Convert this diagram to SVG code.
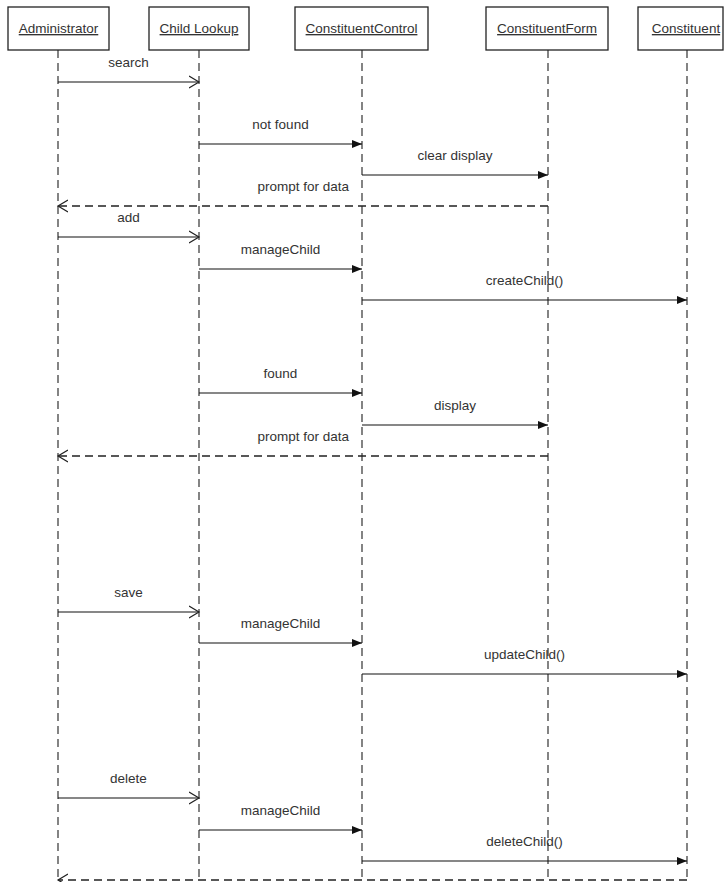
<svg xmlns="http://www.w3.org/2000/svg" width="725" height="882" viewBox="0 0 725 882">
<style>
.box{fill:#fff;stroke:#222;stroke-width:1.3}
.hdr{font-family:"Liberation Sans",Arial,sans-serif;font-size:13.5px;fill:#333;text-anchor:middle;text-decoration:underline}
.life{stroke:#333;stroke-width:1.2;stroke-dasharray:8 5;fill:none}
.msg{stroke:#111;stroke-width:1.2;fill:none}
.ret{stroke:#222;stroke-width:1.3;stroke-dasharray:8 5;fill:none}
.lbl{font-family:"Liberation Sans",Arial,sans-serif;font-size:13.5px;fill:#333;text-anchor:middle}
.lblr{font-family:"Liberation Sans",Arial,sans-serif;font-size:13.5px;fill:#333;text-anchor:end}
</style>
<defs>
<marker id="fill" markerUnits="userSpaceOnUse" markerWidth="12" markerHeight="10" refX="10" refY="5" orient="auto">
<path d="M0,1 L10,5 L0,9 Z" fill="#111"/>
</marker>
<marker id="open" markerUnits="userSpaceOnUse" markerWidth="12" markerHeight="14" refX="10" refY="7" orient="auto">
<path d="M0,1 L10,7 L0,13" fill="none" stroke="#222" stroke-width="1.2"/>
</marker>
</defs>
<rect width="725" height="882" fill="#fff"/>
<g id="lifelines">
<line class="life" x1="58" y1="50" x2="58" y2="880"/>
<line class="life" x1="199" y1="50" x2="199" y2="880"/>
<line class="life" x1="362" y1="50" x2="362" y2="880"/>
<line class="life" x1="548" y1="50" x2="548" y2="880"/>
<line class="life" x1="687" y1="50" x2="687" y2="880"/>
</g>
<g id="administrator"><rect class="box" x="8" y="7" width="101" height="43"/><text class="hdr" x="58.5" y="33">Administrator</text></g>
<g id="child-lookup"><rect class="box" x="149" y="7" width="100" height="43"/><text class="hdr" x="199" y="33">Child Lookup</text></g>
<g id="constituent-control"><rect class="box" x="295" y="7" width="133" height="43"/><text class="hdr" x="361.5" y="33">ConstituentControl</text></g>
<g id="constituent-form"><rect class="box" x="486" y="7" width="122" height="43"/><text class="hdr" x="547" y="33">ConstituentForm</text></g>
<g id="constituent"><rect class="box" x="638" y="7" width="85" height="43"/><text class="hdr" x="686" y="33">Constituent</text></g>
<g id="connectors">
<line class="msg" x1="58" y1="82" x2="199" y2="82" marker-end="url(#open)"/>
<line class="msg" x1="199" y1="144" x2="362" y2="144" marker-end="url(#fill)"/>
<line class="msg" x1="362" y1="175" x2="548" y2="175" marker-end="url(#fill)"/>
<line class="ret" x1="548" y1="206" x2="58" y2="206" marker-end="url(#open)"/>
<line class="msg" x1="58" y1="237" x2="199" y2="237" marker-end="url(#open)"/>
<line class="msg" x1="199" y1="269" x2="362" y2="269" marker-end="url(#fill)"/>
<line class="msg" x1="362" y1="300" x2="687" y2="300" marker-end="url(#fill)"/>
<line class="msg" x1="199" y1="393" x2="362" y2="393" marker-end="url(#fill)"/>
<line class="msg" x1="362" y1="425" x2="548" y2="425" marker-end="url(#fill)"/>
<line class="ret" x1="548" y1="456" x2="58" y2="456" marker-end="url(#open)"/>
<line class="msg" x1="58" y1="612" x2="199" y2="612" marker-end="url(#open)"/>
<line class="msg" x1="199" y1="643" x2="362" y2="643" marker-end="url(#fill)"/>
<line class="msg" x1="362" y1="674" x2="687" y2="674" marker-end="url(#fill)"/>
<line class="msg" x1="58" y1="798" x2="199" y2="798" marker-end="url(#open)"/>
<line class="msg" x1="199" y1="830" x2="362" y2="830" marker-end="url(#fill)"/>
<line class="msg" x1="362" y1="861" x2="687" y2="861" marker-end="url(#fill)"/>
<line class="ret" x1="687" y1="880" x2="58" y2="880" marker-end="url(#open)"/>
</g>
<g id="labels">
<text class="lbl" x="128.5" y="67">search</text>
<text class="lbl" x="280.5" y="129">not found</text>
<text class="lbl" x="455" y="160">clear display</text>
<text class="lblr" x="349" y="191">prompt for data</text>
<text class="lbl" x="128.5" y="222">add</text>
<text class="lbl" x="280.5" y="254">manageChild</text>
<text class="lbl" x="524.5" y="285">createChild()</text>
<text class="lbl" x="280.5" y="378">found</text>
<text class="lbl" x="455" y="410">display</text>
<text class="lblr" x="349" y="441">prompt for data</text>
<text class="lbl" x="128.5" y="597">save</text>
<text class="lbl" x="280.5" y="628">manageChild</text>
<text class="lbl" x="524.5" y="659">updateChild()</text>
<text class="lbl" x="128.5" y="783">delete</text>
<text class="lbl" x="280.5" y="815">manageChild</text>
<text class="lbl" x="524.5" y="846">deleteChild()</text>
</g>
</svg>
